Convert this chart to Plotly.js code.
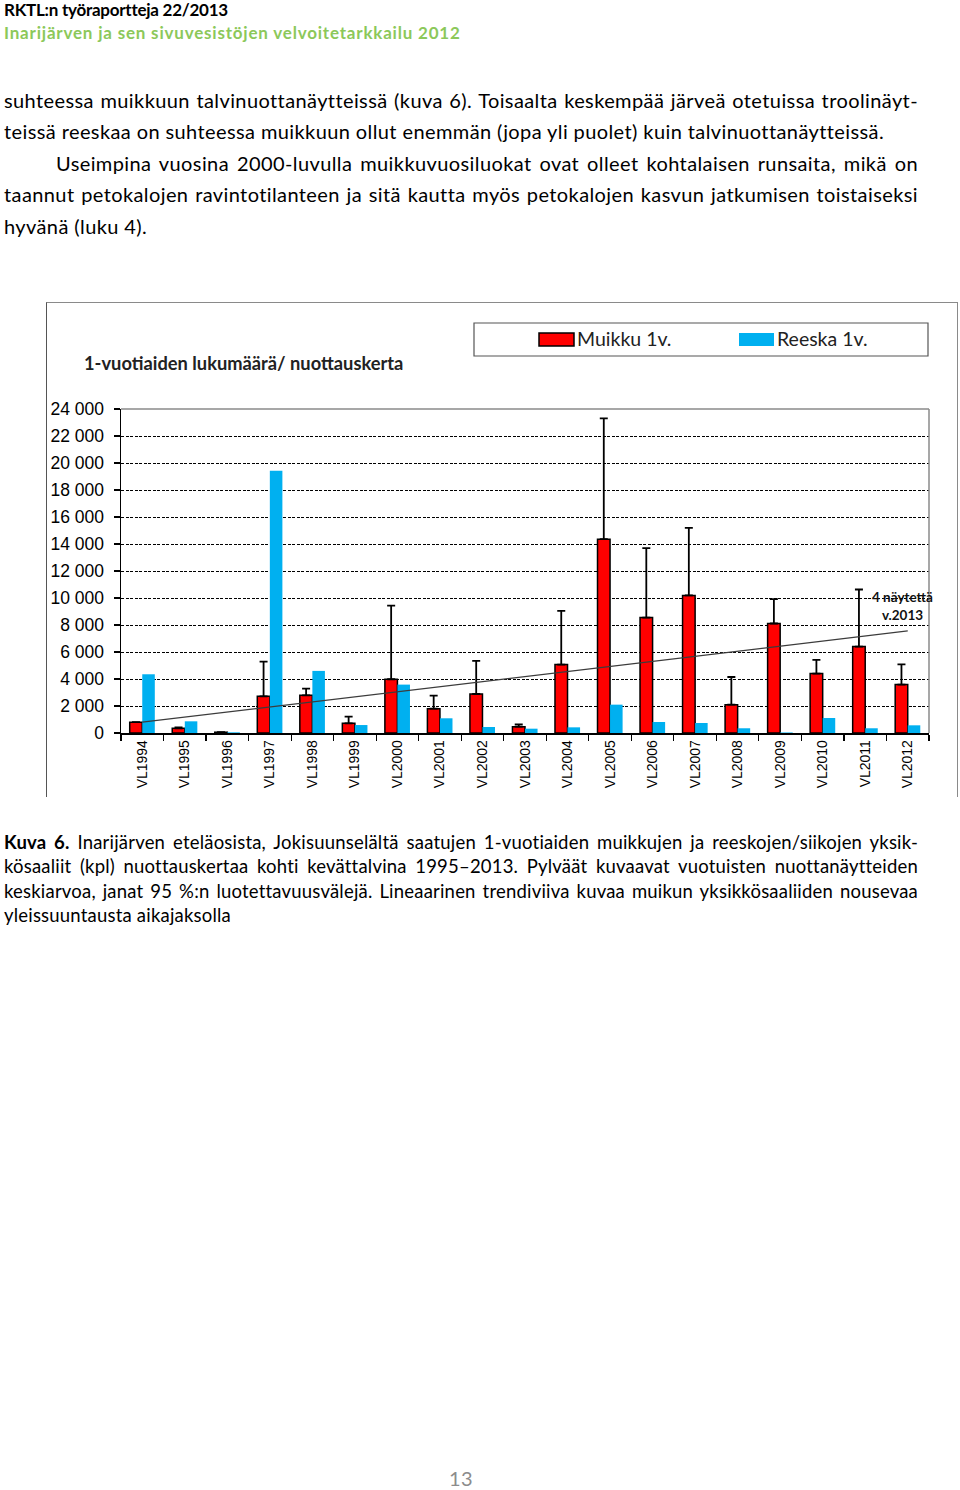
<!DOCTYPE html>
<html>
<head>
<meta charset="utf-8">
<script src="https://cdn.plot.ly/plotly-3.0.1.min.js"></script>
<style>
body { margin: 0; background: #fff; }
#page { position: relative; width: 960px; height: 1490px; font-family: Lato, "Open Sans", sans-serif; color: #000; overflow: hidden; }
.ln { position: absolute; white-space: nowrap; }
.just { text-align: justify; text-align-last: justify; }
.hd1 { left: 4px; top: 0px; font-size: 17px; font-weight: bold; line-height: 20px; letter-spacing: -0.25px; }
.hd2 { left: 4px; top: 23px; font-size: 17px; font-weight: bold; line-height: 20px; letter-spacing: 0.8px; color: #8cc85a; }
.p { font-size: 20px; line-height: 31px; letter-spacing: 0.4px; }
.cap { font-size: 18.5px; line-height: 24px; letter-spacing: 0.2px; }
#chart { position: absolute; left: 46px; top: 302px; width: 912px; height: 495px;
  border-top: 1.5px solid #8a8a8a; border-left: 1.5px solid #555; border-right: 1.5px solid #8a8a8a; box-sizing: border-box; }
#pnum { position: absolute; left: 440px; width: 42px; top: 1468px; line-height: 20px; text-align: center; font-size: 20px; letter-spacing: 0.5px; color: #8c8c8c; }
</style>
</head>
<body>
<div id="page">
  <div class="ln hd1">RKTL:n työraportteja 22/2013</div>
  <div class="ln hd2">Inarijärven ja sen sivuvesistöjen velvoitetarkkailu 2012</div>

  <div class="ln p just" style="left:4px;width:914px;top:85px">suhteessa muikkuun talvinuottanäytteissä (kuva 6). Toisaalta keskempää järveä otetuissa troolinäyt-</div>
  <div class="ln p" style="left:4px;top:116px">teissä reeskaa on suhteessa muikkuun ollut enemmän (jopa yli puolet) kuin talvinuottanäytteissä.</div>
  <div class="ln p just" style="left:56px;width:862px;top:148px">Useimpina vuosina 2000-luvulla muikkuvuosiluokat ovat olleet kohtalaisen runsaita, mikä on</div>
  <div class="ln p just" style="left:4px;width:914px;top:179px">taannut petokalojen ravintotilanteen ja sitä kautta myös petokalojen kasvun jatkumisen toistaiseksi</div>
  <div class="ln p" style="left:4px;top:211px">hyvänä (luku 4).</div>

  <div id="chart"></div>

  <div class="ln cap just" style="left:4px;width:914px;top:830px"><b>Kuva 6.</b> Inarijärven eteläosista, Jokisuunselältä saatujen 1-vuotiaiden muikkujen ja reeskojen/siikojen yksik-</div>
  <div class="ln cap just" style="left:4px;width:914px;top:854px">kösaaliit (kpl) nuottauskertaa kohti kevättalvina 1995–2013. Pylväät kuvaavat vuotuisten nuottanäytteiden</div>
  <div class="ln cap just" style="left:4px;width:914px;top:879px">keskiarvoa, janat 95 %:n luotettavuusvälejä. Lineaarinen trendiviiva kuvaa muikun yksikkösaaliiden nousevaa</div>
  <div class="ln cap" style="left:4px;top:903px">yleissuuntausta aikajaksolla</div>

  <div id="pnum">13</div>
</div>
<script>
// ------------------- data -------------------------------------------
var years = ["VL1994", "VL1995", "VL1996", "VL1997", "VL1998", "VL1999", "VL2000", "VL2001", "VL2002", "VL2003",
  "VL2004", "VL2005", "VL2006", "VL2007", "VL2008", "VL2009", "VL2010", "VL2011", "VL2012"];
var muikku = [800, 350, 60, 2720, 2790, 720, 3980, 1800, 2890, 470, 5070, 14360, 8550, 10190, 2100, 8110, 4400, 6400, 3590];
var muikkuUpper = [800, 420, 60, 5290, 3290, 1210, 9440, 2770, 5340, 640, 9050, 23310, 13700, 15200, 4150, 9910, 5410, 10630, 5090];
var reeska = [4350, 865, 50, 19430, 4600, 590, 3585, 1090, 445, 320, 420, 2100, 815, 740, 350, 40, 1110, 350, 570];
var trendY = [800, 7560]; // trend line at first and last year
var seriesNames = ["Muikku 1v.", "Reeska 1v."];
var chartTitle = "1-vuotiaiden lukumäärä/ nuottauskerta";
var note = "4 näytettä<br>v.2013";

// ------------------- helpers ----------------------
var plotL = 120, plotT = 408, plotW = 808, plotH = 324; // plot area in page pixels
function fx(x) { return (x - plotL) / plotW; }
function fy(y) { return (plotT + plotH - y) / plotH; }

var errPlus = [], errMinus = [];
for (var i = 0; i < muikku.length; i++) {
	errPlus.push(muikkuUpper[i] - muikku[i]);
	errMinus.push(0);
}

var traceM = {
	type: "bar", x: years, y: muikku, name: seriesNames[0],
	marker: { color: "#ff0000", line: { color: "#000", width: 1.5 } },
	error_y: { type: "data", symmetric: false, array: errPlus, arrayminus: errMinus, color: "#000", thickness: 1.8, width: 4 }
};
var traceR = {
	type: "bar", x: years, y: reeska, name: seriesNames[1],
	marker: { color: "#00b0f0", line: { width: 0 } }
};
var trend = {
	type: "scatter", mode: "lines", x: [years[0], years[years.length - 1]], y: trendY,
	line: { color: "#3c3c3c", width: 1.2 }, hoverinfo: "skip"
};

var shapes = [
	// top and right frame of the plot area
	{ type: "line", xref: "paper", yref: "paper", x0: 0, x1: 1, y0: 1, y1: 1, line: { color: "#8a8a8a", width: 1.5 } },
	{ type: "line", xref: "paper", yref: "paper", x0: 1, x1: 1, y0: 0, y1: 1, line: { color: "#8a8a8a", width: 1.5 } },
	// legend box
	{ type: "rect", xref: "paper", yref: "paper", x0: fx(473), x1: fx(927), y0: fy(355), y1: fy(322), line: { color: "#555", width: 1.2 }, fillcolor: "#fff" },
	{ type: "rect", xref: "paper", yref: "paper", x0: fx(538), x1: fx(573), y0: fy(345), y1: fy(332), line: { color: "#000", width: 1.5 }, fillcolor: "#ff0000" },
	{ type: "rect", xref: "paper", yref: "paper", x0: fx(738), x1: fx(773), y0: fy(345), y1: fy(332), line: { width: 0 }, fillcolor: "#00b0f0" }
];

var annotations = [
	{ xref: "paper", yref: "paper", x: fx(81), y: fy(362), xanchor: "left", yanchor: "middle", showarrow: false,
	  text: "<b>" + chartTitle + "</b>", font: { family: "Lato, sans-serif", size: 18.3, color: "#222" } },
	{ xref: "paper", yref: "paper", x: fx(574), y: fy(338), xanchor: "left", yanchor: "middle", showarrow: false,
	  text: seriesNames[0], font: { family: "Lato, sans-serif", size: 19.5, color: "#222" } },
	{ xref: "paper", yref: "paper", x: fx(774), y: fy(338), xanchor: "left", yanchor: "middle", showarrow: false,
	  text: seriesNames[1], font: { family: "Lato, sans-serif", size: 19.5, color: "#222" } },
	{ xref: "paper", yref: "paper", x: fx(901), y: fy(605), xanchor: "center", yanchor: "middle", showarrow: false,
	  text: "<b>" + note + "</b>", align: "center", font: { family: "Lato, sans-serif", size: 13.5, color: "#111" } }
];

var layout = {
	width: 912, height: 495,
	margin: { l: 74, r: 30, t: 106, b: 65 },
	paper_bgcolor: "rgba(0,0,0,0)", plot_bgcolor: "#fff",
	separators: ", ",
	showlegend: false,
	barmode: "group", bargap: 0.41, bargroupgap: 0,
	font: { family: "Arial, 'Liberation Sans', sans-serif", color: "#000" },
	xaxis: {
		type: "category", tickson: "boundaries", ticks: "outside", ticklen: 6, tickcolor: "#000", tickwidth: 1.2,
		tickangle: -90, tickfont: { size: 14, family: "Arial, 'Liberation Sans', sans-serif" },
		showline: true, linecolor: "#000", linewidth: 1.5, showgrid: false
	},
	yaxis: {
		range: [0, 24000], dtick: 2000, tickformat: ",d",
		ticks: "outside", ticklen: 6, tickcolor: "#000", tickwidth: 1.2, ticklabelstandoff: 6,
		tickfont: { size: 17.5, family: "Arial, 'Liberation Sans', sans-serif" },
		showline: true, linecolor: "#000", linewidth: 1.5,
		showgrid: true, gridcolor: "#000", gridwidth: 1, griddash: "3px,1.5px", zeroline: false
	},
	shapes: shapes,
	annotations: annotations
};

Plotly.newPlot("chart", [traceM, traceR, trend], layout, { displayModeBar: false, staticPlot: true });
</script>
</body>
</html>
